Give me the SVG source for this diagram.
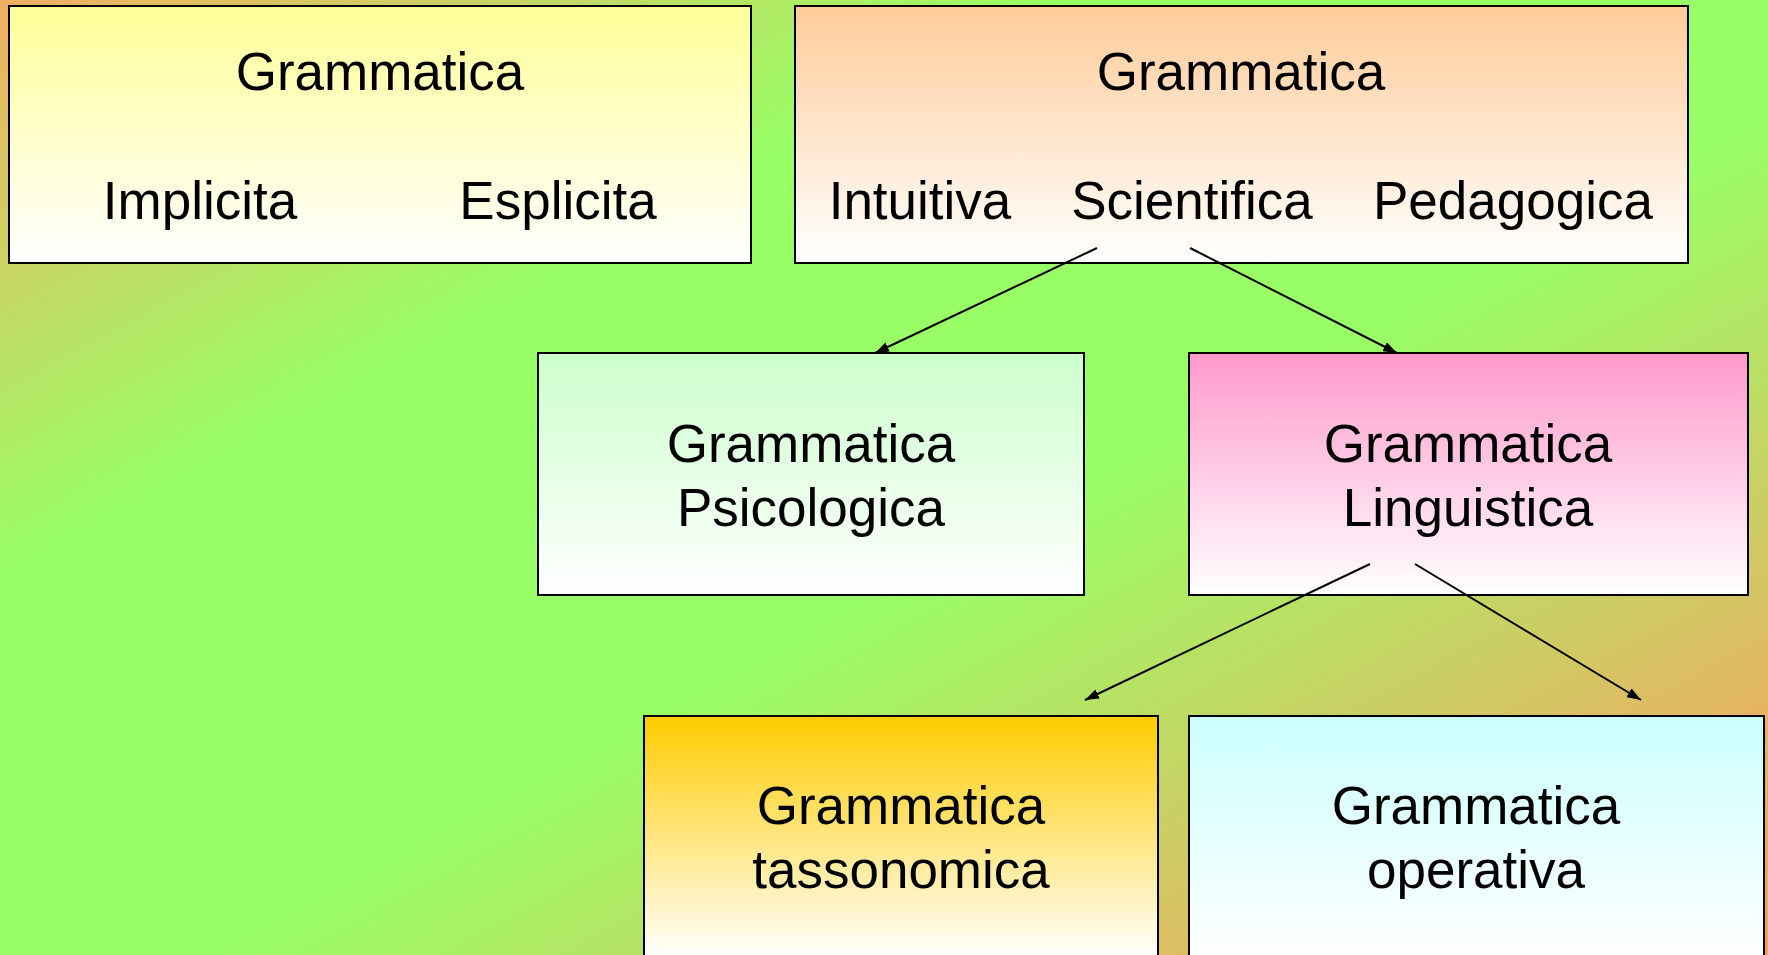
<svg xmlns="http://www.w3.org/2000/svg" width="1768" height="955" viewBox="0 0 1768 955">
<defs>
<linearGradient id="bg" x1="0" y1="0" x2="1" y2="1">
<stop offset="0" stop-color="#F2AE62"/>
<stop offset="0.3" stop-color="#99FF66"/>
<stop offset="0.56" stop-color="#99FF66"/>
<stop offset="0.88" stop-color="#E8B262"/>
<stop offset="1" stop-color="#F5A058"/>
</linearGradient>
<linearGradient id="g1" x1="0" y1="0" x2="0" y2="1"><stop offset="0" stop-color="#FFFF99"/><stop offset="1" stop-color="#FFFFFF"/></linearGradient>
<linearGradient id="g2" x1="0" y1="0" x2="0" y2="1"><stop offset="0" stop-color="#FFCC99"/><stop offset="1" stop-color="#FFFFFF"/></linearGradient>
<linearGradient id="g3" x1="0" y1="0" x2="0" y2="1"><stop offset="0" stop-color="#CCFFCC"/><stop offset="1" stop-color="#FFFFFF"/></linearGradient>
<linearGradient id="g4" x1="0" y1="0" x2="0" y2="1"><stop offset="0" stop-color="#FF99CC"/><stop offset="1" stop-color="#FFFFFF"/></linearGradient>
<linearGradient id="g5" x1="0" y1="0" x2="0" y2="1"><stop offset="0" stop-color="#FFCC00"/><stop offset="1" stop-color="#FFFFFF"/></linearGradient>
<linearGradient id="g6" x1="0" y1="0" x2="0" y2="1"><stop offset="0" stop-color="#CCFFFF"/><stop offset="1" stop-color="#FFFFFF"/></linearGradient>
<marker id="arr" viewBox="0 0 14 10" refX="14" refY="5" markerWidth="14" markerHeight="10" markerUnits="userSpaceOnUse" orient="auto">
<path d="M0,0 L14,5 L0,10 Z" fill="#000"/>
</marker>
<style>
.box{stroke:#000;stroke-width:2}
text{font-family:"Liberation Sans",Arial,sans-serif;font-size:53px;fill:#000;text-anchor:middle}
.conn line{stroke:#000;stroke-width:2;marker-end:url(#arr)}
</style>
</defs>
<rect x="0" y="0" width="1768" height="955" fill="url(#bg)"/>
<g id="n1">
<rect class="box" x="9" y="6" width="742" height="257" fill="url(#g1)"/>
<text x="380" y="90">Grammatica</text>
<text x="200" y="219">Implicita</text>
<text x="558" y="219">Esplicita</text>
</g>
<g id="n2">
<rect class="box" x="795" y="6" width="893" height="257" fill="url(#g2)"/>
<text x="1241" y="90">Grammatica</text>
<text x="920" y="219">Intuitiva</text>
<text x="1192" y="219">Scientifica</text>
<text x="1513" y="219">Pedagogica</text>
</g>
<g id="n3">
<rect class="box" x="538" y="353" width="546" height="242" fill="url(#g3)"/>
<text x="811" y="462">Grammatica</text>
<text x="811" y="526">Psicologica</text>
</g>
<g id="n4">
<rect class="box" x="1189" y="353" width="559" height="242" fill="url(#g4)"/>
<text x="1468" y="462">Grammatica</text>
<text x="1468" y="526">Linguistica</text>
</g>
<g id="n5">
<rect class="box" x="644" y="716" width="514" height="242" fill="url(#g5)"/>
<text x="901" y="824">Grammatica</text>
<text x="901" y="888">tassonomica</text>
</g>
<g id="n6">
<rect class="box" x="1189" y="716" width="575" height="242" fill="url(#g6)"/>
<text x="1476" y="824">Grammatica</text>
<text x="1476" y="888">operativa</text>
</g>
<g id="connectors" class="conn">
<line x1="1097" y1="248" x2="875" y2="353"/>
<line x1="1190" y1="248" x2="1397" y2="353"/>
<line x1="1370" y1="564" x2="1085" y2="700"/>
<line x1="1415" y1="564" x2="1641" y2="700"/>
</g>
</svg>
